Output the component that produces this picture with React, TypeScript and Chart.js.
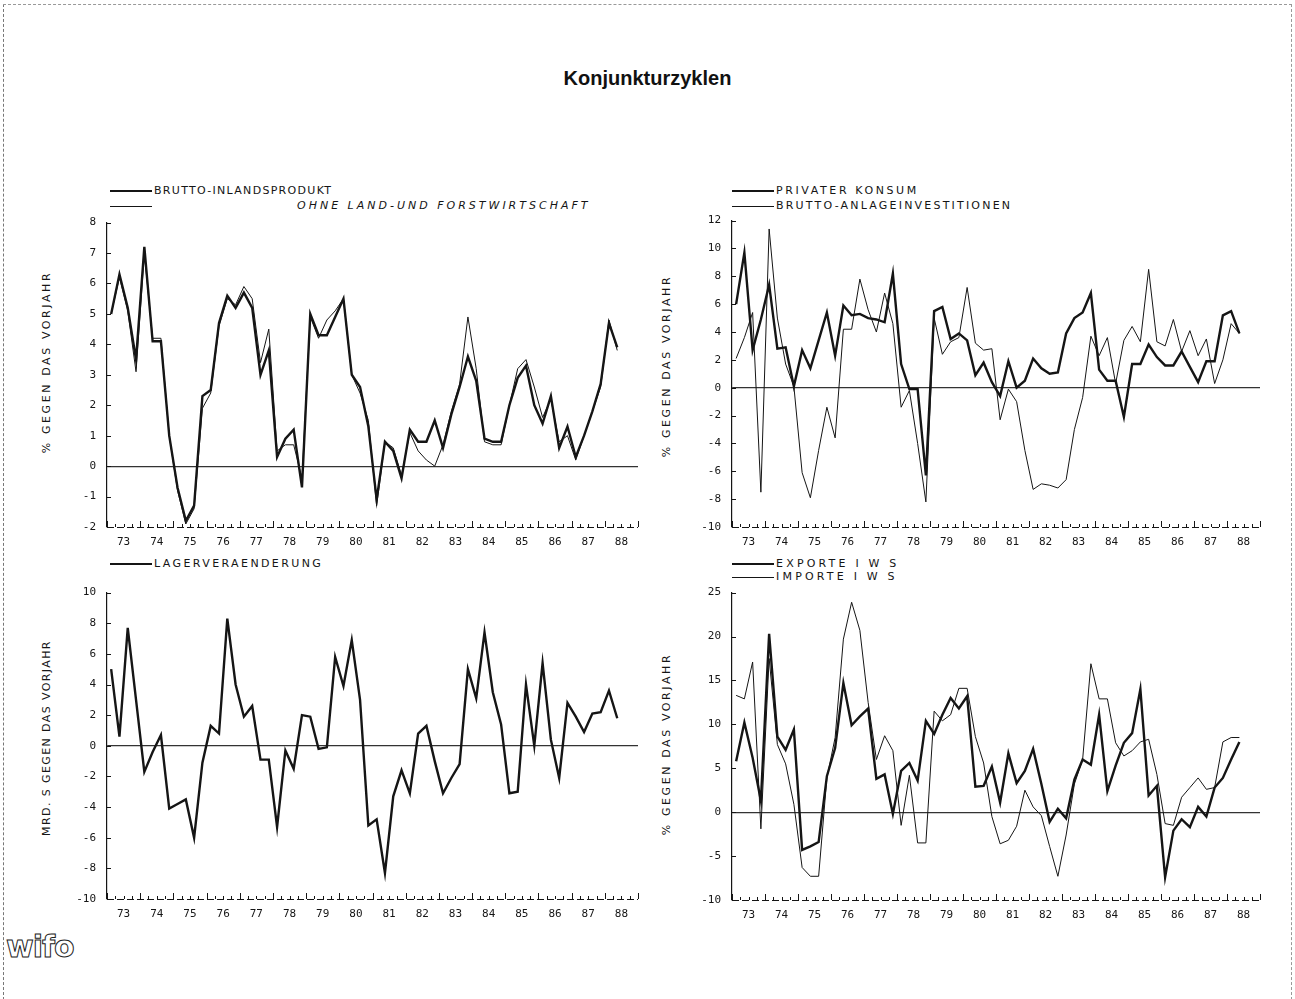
import React, { useEffect, useRef } from 'react';
import { Chart, registerables } from 'chart.js';

Chart.register(...registerables);

// ---------- data (quarterly, 1973 Q1 .. 1988 Q2) ----------
const YEAR_LABELS = ['73', '74', '75', '76', '77', '78', '79', '80', '81', '82', '83', '84', '85', '86', '87', '88'];

const BRUTTO_INLANDSPRODUKT = [
  5.0, 6.3, 5.2, 3.5, 7.2, 4.1, 4.1, 1.0, -0.7, -1.8,
  -1.3, 2.3, 2.5, 4.7, 5.6, 5.2, 5.7, 5.2, 3.0, 3.8,
  0.3, 0.9, 1.2, -0.7, 5.0, 4.3, 4.3, 4.9, 5.5, 3.0,
  2.6, 1.3, -1.1, 0.8, 0.5, -0.4, 1.2, 0.8, 0.8, 1.5,
  0.6, 1.7, 2.6, 3.6, 2.8, 0.9, 0.8, 0.8, 2.0, 2.9,
  3.3, 2.0, 1.4, 2.3, 0.6, 1.3, 0.3, 1.0, 1.8, 2.7,
  4.7, 3.9,
];

const OHNE_LAND_FORST = [
  5.0, 6.2, 5.1, 3.1, 7.0, 4.2, 4.2, 1.0, -0.8, -1.9,
  -1.4, 1.9, 2.4, 4.6, 5.5, 5.3, 5.9, 5.5, 3.4, 4.5,
  0.5, 0.7, 0.7, -0.4, 4.9, 4.2, 4.8, 5.1, 5.5, 3.0,
  2.4, 1.5, -1.3, 0.8, 0.6, -0.3, 1.1, 0.5, 0.2, 0.0,
  0.7, 1.8, 2.7, 4.9, 3.2, 0.8, 0.7, 0.7, 2.0, 3.2,
  3.5, 2.6, 1.6, 2.2, 0.8, 1.0, 0.2, 1.0, 1.8, 2.6,
  4.8, 3.8,
];

const PRIVATER_KONSUM = [
  6.0, 9.7, 2.7, 4.9, 7.4, 2.8, 2.9, 0.1, 2.7, 1.4,
  3.4, 5.4, 2.3, 5.9, 5.2, 5.3, 5.0, 4.9, 4.7, 8.2,
  1.7, -0.1, -0.1, -6.3, 5.5, 5.8, 3.5, 3.9, 3.4, 0.9,
  1.8, 0.4, -0.6, 1.9, 0.0, 0.5, 2.1, 1.4, 1.0, 1.1,
  3.9, 5.0, 5.4, 6.8, 1.3, 0.5, 0.5, -2.1, 1.7, 1.7,
  3.1, 2.2, 1.6, 1.6, 2.6, 1.5, 0.4, 1.9, 1.9, 5.2,
  5.5, 3.9,
];

const BRUTTO_ANLAGEINVESTITIONEN = [
  2.1, 3.6, 5.4, -7.5, 11.4, 5.0, 1.7, 0.1, -6.1, -7.9,
  -4.5, -1.4, -3.6, 4.2, 4.2, 7.8, 5.6, 4.0, 6.8, 4.6,
  -1.4, -0.2, -4.0, -8.2, 5.0, 2.4, 3.3, 3.6, 7.2, 3.2,
  2.7, 2.8, -2.3, -0.1, -1.0, -4.5, -7.3, -6.9, -7.0, -7.2,
  -6.6, -3.0, -0.7, 3.7, 2.3, 3.6, 0.3, 3.4, 4.4, 3.3,
  8.5, 3.3, 3.0, 4.9, 2.6, 4.1, 2.3, 3.5, 0.3, 2.0,
  4.6, 3.9,
];

const LAGERVERAENDERUNG = [
  5.0, 0.6, 7.7, 3.0, -1.7, -0.4, 0.7, -4.1, -3.8, -3.5,
  -6.0, -1.1, 1.3, 0.8, 8.3, 4.0, 1.9, 2.6, -0.9, -0.9,
  -5.3, -0.3, -1.5, 2.0, 1.9, -0.2, -0.1, 5.8, 3.9, 6.9,
  3.0, -5.2, -4.8, -8.3, -3.3, -1.6, -3.1, 0.8, 1.3, -1.0,
  -3.1, -2.1, -1.2, 5.0, 3.1, 7.4, 3.5, 1.4, -3.1, -3.0,
  4.0, 0.0, 5.4, 0.4, -2.1, 2.8, 1.9, 0.9, 2.1, 2.2,
  3.6, 1.8,
];

const EXPORTE = [
  5.8, 10.2, 6.2, 1.3, 20.3, 8.6, 7.1, 9.4, -4.3, -3.9,
  -3.4, 4.1, 7.3, 14.7, 9.9, 10.9, 11.8, 3.8, 4.3, -0.2,
  4.7, 5.6, 3.6, 10.4, 8.9, 11.1, 13.0, 11.8, 13.2, 2.9,
  3.0, 5.2, 1.1, 6.7, 3.3, 4.7, 7.2, 3.2, -1.1, 0.4,
  -0.7, 3.7, 6.0, 5.4, 11.1, 2.4, 5.3, 7.9, 9.0, 14.0,
  1.9, 3.0, -7.4, -2.1, -0.8, -1.7, 0.6, -0.5, 2.8, 3.9,
  6.0, 8.0,
];

const IMPORTE = [
  13.3, 12.9, 17.1, -1.9, 17.5, 7.7, 5.5, 0.9, -6.3, -7.3,
  -7.3, 3.9, 8.5, 19.7, 23.9, 20.7, 12.5, 6.0, 8.7, 7.0,
  -1.5, 4.2, -3.5, -3.5, 11.5, 10.4, 11.1, 14.1, 14.1, 8.6,
  5.6, -0.5, -3.6, -3.2, -1.6, 2.5, 0.6, -0.4, -3.9, -7.3,
  -2.6, 3.2, 6.0, 16.9, 12.9, 12.9, 7.9, 6.4, 7.0, 8.0,
  8.3, 4.3, -1.3, -1.5, 1.7, 2.8, 3.9, 2.6, 2.8, 8.0,
  8.5, 8.5,
];

// ---------- styling ----------
const INK = '#151515';
const THICK = 2.4;
const THIN = 1.0;
const TICK_FONT = { family: '"DejaVu Sans Mono", "Liberation Mono", monospace', size: 11 };
const TEXT_FONT = '"DejaVu Sans", "Liberation Sans", sans-serif';

const AX_W = 50;
const AX_H = 26;
const PAD_T = 14;
const PAD_R = 12;

const axisDecor = {
  id: 'axisDecor',
  afterDatasetsDraw(chart: any) {
    const { ctx, chartArea } = chart;
    const xs = chart.scales.x;
    const ys = chart.scales.y;
    ctx.save();
    ctx.strokeStyle = INK;
    ctx.lineWidth = 1;
    // dashed bottom axis
    ctx.setLineDash([7, 3]);
    ctx.beginPath();
    ctx.moveTo(chartArea.left, chartArea.bottom + 0.5);
    ctx.lineTo(chartArea.right, chartArea.bottom + 0.5);
    ctx.stroke();
    ctx.setLineDash([]);
    // quarter ticks
    for (let q = 0; q <= 64; q++) {
      const px = Math.round(xs.getPixelForValue(q)) + 0.5;
      const len = q % 4 === 0 ? 6 : 3;
      ctx.beginPath();
      ctx.moveTo(px, chartArea.bottom);
      ctx.lineTo(px, chartArea.bottom - len);
      ctx.stroke();
    }
    // small inward y ticks
    ys.ticks.forEach((t: any) => {
      const py = Math.round(ys.getPixelForValue(t.value)) + 0.5;
      ctx.beginPath();
      ctx.moveTo(chartArea.left, py);
      ctx.lineTo(chartArea.left + 4, py);
      ctx.stroke();
    });
    ctx.restore();
  },
};

type Area = { l: number; r: number; t: number; b: number };
type Series = { values: number[]; width: number };

function Panel({ area, yMin, yMax, yStep, series }: { area: Area; yMin: number; yMax: number; yStep: number; series: Series[] }) {
  const ref = useRef<HTMLCanvasElement>(null);
  const w = area.r - area.l + AX_W + PAD_R;
  const h = area.b - area.t + PAD_T + AX_H;

  useEffect(() => {
    if (!ref.current) return;
    const chart = new Chart(ref.current, {
      type: 'line',
      data: {
        datasets: series.map((s) => ({
          data: s.values.map((v, i) => ({ x: i + 0.5, y: v })),
          borderColor: INK,
          borderWidth: s.width,
          pointRadius: 0,
          tension: 0,
          fill: false,
          borderJoinStyle: 'miter' as const,
        })),
      },
      options: {
        animation: false,
        responsive: false,
        maintainAspectRatio: false,
        events: [],
        layout: { padding: { top: PAD_T, right: PAD_R, left: 0, bottom: 0 } },
        plugins: { legend: { display: false }, tooltip: { enabled: false } },
        scales: {
          x: {
            type: 'linear',
            min: 0,
            max: 64,
            grid: { display: false },
            border: { display: false },
            afterBuildTicks: (s: any) => {
              s.ticks = YEAR_LABELS.map((_, k) => ({ value: 2 + 4 * k }));
            },
            afterFit: (s: any) => {
              s.height = AX_H;
            },
            ticks: {
              autoSkip: false,
              maxRotation: 0,
              padding: 1,
              color: INK,
              font: TICK_FONT,
              callback: (v: any) => YEAR_LABELS[Math.round((Number(v) - 2) / 4)] ?? '',
            },
          },
          y: {
            type: 'linear',
            min: yMin,
            max: yMax,
            afterFit: (s: any) => {
              s.width = AX_W;
            },
            ticks: {
              stepSize: yStep,
              padding: 11,
              color: INK,
              font: TICK_FONT,
              callback: (v: any) => String(v),
            },
            grid: {
              drawTicks: false,
              lineWidth: 1.2,
              color: (c: any) => (c.tick && c.tick.value === 0 ? '#333' : 'rgba(0,0,0,0)'),
            },
            border: { display: true, color: INK, width: 1.2 },
          },
        },
      },
      plugins: [axisDecor],
    });
    return () => chart.destroy();
  }, []);

  return (
    <canvas
      ref={ref}
      width={w}
      height={h}
      style={{ position: 'absolute', left: area.l - AX_W, top: area.t - PAD_T, width: w, height: h }}
    />
  );
}

const legendText: React.CSSProperties = {
  position: 'absolute',
  fontFamily: TEXT_FONT,
  fontSize: 11,
  color: INK,
  whiteSpace: 'nowrap',
  lineHeight: '12px',
  letterSpacing: '2.4px',
};

function LegendRow({ x, y, thick, label, textLeft, italic, spacing }: { x: number; y: number; thick: boolean; label: string; textLeft?: number; italic?: boolean; spacing?: number }) {
  return (
    <>
      <div
        style={{
          position: 'absolute',
          left: x,
          top: y - (thick ? 1 : 0.5),
          width: 42,
          height: thick ? 2 : 1,
          background: INK,
        }}
      />
      <div
        style={{
          ...legendText,
          left: textLeft ?? x + 44,
          top: y - 6,
          fontStyle: italic ? 'italic' : 'normal',
          letterSpacing: spacing !== undefined ? `${spacing}px` : legendText.letterSpacing,
        }}
      >
        {label}
      </div>
    </>
  );
}

function YTitle({ cx, cy, label, spacing }: { cx: number; cy: number; label: string; spacing: number }) {
  return (
    <div
      style={{
        position: 'absolute',
        left: cx,
        top: cy,
        transform: 'translate(-50%, -50%) rotate(-90deg)',
        fontFamily: TEXT_FONT,
        fontSize: 11,
        color: INK,
        whiteSpace: 'nowrap',
        letterSpacing: `${spacing}px`,
      }}
    >
      {label}
    </div>
  );
}

export default function App() {
  const p1: Area = { l: 107, r: 638, t: 219, b: 527 };
  const p2: Area = { l: 732, r: 1260, t: 217, b: 527 };
  const p3: Area = { l: 107, r: 638, t: 589, b: 899 };
  const p4: Area = { l: 732, r: 1260, t: 589, b: 900 };

  return (
    <div style={{ position: 'absolute', left: 0, top: 0, width: 1295, height: 999, background: '#fff', overflow: 'hidden' }}>
      {/* page frame */}
      <div
        style={{
          position: 'absolute',
          left: 3,
          top: 4,
          width: 1287,
          height: 1000,
          borderLeft: '1px dashed #777',
          borderTop: '1px dashed #999',
          borderRight: '1px dashed #999',
        }}
      />

      <div
        style={{
          position: 'absolute',
          left: 0,
          top: 67,
          width: 1295,
          textAlign: 'center',
          fontFamily: '"Liberation Sans", Arial, sans-serif',
          fontWeight: 'bold',
          fontSize: 20,
          color: '#111',
        }}
      >
        Konjunkturzyklen
      </div>

      {/* panel 1 */}
      <LegendRow x={110} y={191} thick label="BRUTTO-INLANDSPRODUKT" spacing={1.3} />
      <LegendRow x={110} y={206} thick={false} label="OHNE LAND-UND FORSTWIRTSCHAFT" textLeft={297} italic spacing={3.0} />
      <YTitle cx={46} cy={362} label="% GEGEN DAS VORJAHR" spacing={2.6} />
      <Panel
        area={p1}
        yMin={-2}
        yMax={8}
        yStep={1}
        series={[
          { values: OHNE_LAND_FORST, width: THIN },
          { values: BRUTTO_INLANDSPRODUKT, width: THICK },
        ]}
      />

      {/* panel 2 */}
      <LegendRow x={732} y={191} thick label="PRIVATER KONSUM" spacing={2.6} />
      <LegendRow x={732} y={206} thick={false} label="BRUTTO-ANLAGEINVESTITIONEN" spacing={2.2} />
      <YTitle cx={666} cy={366} label="% GEGEN DAS VORJAHR" spacing={2.6} />
      <Panel
        area={p2}
        yMin={-10}
        yMax={12}
        yStep={2}
        series={[
          { values: BRUTTO_ANLAGEINVESTITIONEN, width: THIN },
          { values: PRIVATER_KONSUM, width: THICK },
        ]}
      />

      {/* panel 3 */}
      <LegendRow x={110} y={564} thick label="LAGERVERAENDERUNG" spacing={2.4} />
      <YTitle cx={46} cy={738} label="MRD. S GEGEN DAS VORJAHR" spacing={1.4} />
      <Panel area={p3} yMin={-10} yMax={10} yStep={2} series={[{ values: LAGERVERAENDERUNG, width: THICK }]} />

      {/* panel 4 */}
      <LegendRow x={732} y={564} thick label="EXPORTE I W S" spacing={3.2} />
      <LegendRow x={732} y={577} thick={false} label="IMPORTE I W S" spacing={3.2} />
      <YTitle cx={666} cy={744} label="% GEGEN DAS VORJAHR" spacing={2.6} />
      <Panel
        area={p4}
        yMin={-10}
        yMax={25}
        yStep={5}
        series={[
          { values: IMPORTE, width: THIN },
          { values: EXPORTE, width: THICK },
        ]}
      />

      {/* logo */}
      <div
        style={{
          position: 'absolute',
          left: 6,
          top: 930,
          fontFamily: TEXT_FONT,
          fontWeight: 'bold',
          fontSize: 30,
          lineHeight: '34px',
          color: '#fff',
          WebkitTextStroke: '1px #222',
          letterSpacing: '-1px',
        }}
      >
        wifo
      </div>
    </div>
  );
}
